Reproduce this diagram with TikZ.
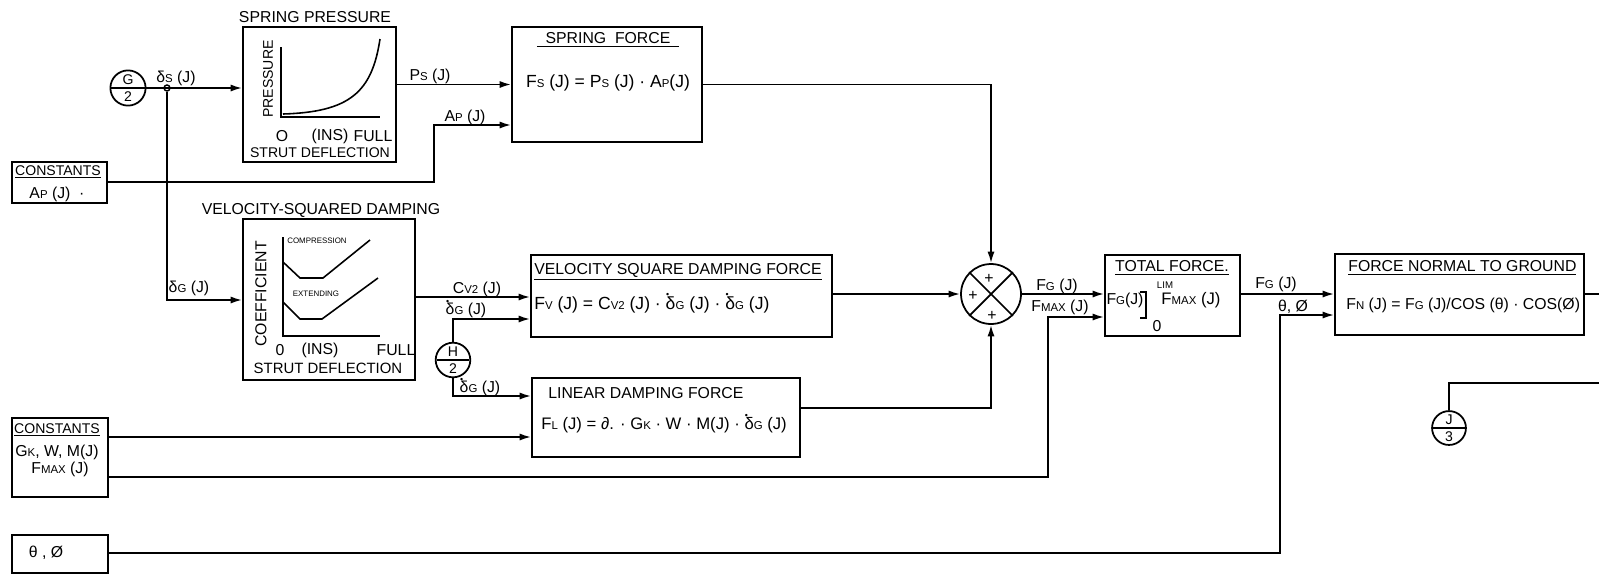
\documentclass[tikz,border=0pt]{standalone}
\usepackage{fontspec}
\setmainfont{Liberation Sans}
\usetikzlibrary{arrows.meta,fit,shapes.multipart}
\newcommand{\sm}[1]{{\fontsize{6.5}{6.5}\selectfont #1}}
\newcommand{\dl}[1]{δ\sm{#1}}
\newcommand{\dld}[1]{\rlap{\kern0.02em\raisebox{0.66em}{\fontsize{5}{5}\selectfont •}}δ\sm{#1}}
\begin{document}
\begin{tikzpicture}[x=0.02cm,y=-0.02cm,
    blk/.style={draw,line width=1pt,inner sep=0pt},
    ln/.style={line width=1pt},
    arr/.style={line width=1pt,-{Latex[length=6.5pt,width=4pt]}},
    crv/.style={line width=0.9pt},
    lbl/.style={inner sep=0pt,font=\fontsize{9}{10}\selectfont},
    fml/.style={inner sep=0pt,font=\fontsize{10}{11}\selectfont},
    tiny/.style={inner sep=0pt,font=\fontsize{4.5}{5}\selectfont},
    pg/.style={draw,circle split,line width=1pt,inner sep=1.4pt,font=\fontsize{8}{8}\selectfont}]
    \useasboundingbox (0,0) rectangle (1599,576);
    % Presion del resorte
    \node[blk,fit={(243,27)(396,162)}] (spp) {};
    \node[lbl] (spptit) at (315,17) {SPRING PRESSURE};
    \draw[crv] (281,47) -- (281,117) -- (380,117);
    \draw[crv] (283,114) .. controls (350,112) and (372,92) .. (380,39);
    \node[lbl,rotate=90,font=\fontsize{8}{8}\selectfont] (sppy) at (268,79) {PRESSURE};
    \node[lbl] (spp0) at (282,136) {O};
    \node[lbl] (sppi) at (330,136) {(INS)};
    \node[lbl] (sppf) at (373,136) {FULL};
    \node[lbl,font=\fontsize{8}{9}\selectfont] (sppx) at (320,153) {STRUT DEFLECTION};
    % Entrada G/2
    \node[pg] (cg) at (128,88) {G\nodepart{lower}2};
    \node[draw,circle,line width=0.8pt,inner sep=0pt,minimum size=0.12cm] (js) at (167,88) {};
    \node[lbl] (dsl) at (176,78) {\dl{S} (J)};
    \node[lbl] (dgl) at (189,288) {\dl{G} (J)};
    % Constantes
    \node[blk,fit={(12,162)(107,203)}] (c1) {};
    \node[lbl,font=\fontsize{8}{9}\selectfont] (c1t) at (58,172) {\underline{CONSTANTS}};
    \node[lbl] (c1v) at (57,194) {A\sm{P} (J) \ ·};
    \node[lbl] (apl) at (465,117) {A\sm{P} (J)};
    % Fuerza del resorte
    \node[blk,fit={(512,27)(702,142)}] (sf) {};
    \node[lbl] (sft) at (608,40) {\underline{\ \ SPRING\ \ FORCE\ \ }};
    \node[fml] (sff) at (608,83) {F\sm{S} (J) = P\sm{S} (J) · A\sm{P}(J)};
    \node[lbl] (psl) at (430,76) {P\sm{S} (J)};
    % Amortiguamiento cuadratico
    \node[blk,fit={(243,219)(415,380)}] (vsd) {};
    \node[lbl] (vsdtit) at (321,210) {VELOCITY-SQUARED DAMPING};
    \draw[crv] (283,237) -- (283,336) -- (380,336);
    \draw[crv] (283,262) -- (300,278) -- (323,278) -- (370,240);
    \draw[crv] (283,302) -- (300,319) -- (322,319) -- (378,278);
    \node[tiny] (vsdc) at (317,241) {COMPRESSION};
    \node[tiny] (vsde) at (316,294) {EXTENDING};
    \node[lbl,rotate=90] (vsdy) at (261,294) {COEFFICIENT};
    \node[lbl] (vsd0) at (280,350) {0};
    \node[lbl] (vsdi) at (320,350) {(INS)};
    \node[lbl] (vsdf0) at (396,350) {FULL};
    \node[lbl,font=\fontsize{8.5}{9}\selectfont] (vsdx) at (328,368) {STRUT DEFLECTION};
    % Fuerza de amortiguamiento cuadratico
    \node[blk,fit={(531,255)(832,337)}] (vsdf) {};
    \node[lbl,anchor=west] (vsdft) at (534,272) {\underline{VELOCITY SQUARE DAMPING FORCE}};
    \node[fml,anchor=west] (vsdff) at (534,303) {F\sm{V} (J) = C\sm{V2} (J) · \dld{G} (J) · \dld{G} (J)};
    \node[lbl] (cvl) at (477,289) {C\sm{V2} (J)};
    \node[pg] (ch) at (453,360) {H\nodepart{lower}2};
    \node[lbl] (dg2) at (466,309) {\dld{G} (J)};
    \node[lbl] (dg3) at (480,387) {\dld{G} (J)};
    % Amortiguamiento lineal
    \node[blk,fit={(532,378)(800,457)}] (ld) {};
    \node[lbl,anchor=west] (ldt) at (548,393) {LINEAR DAMPING FORCE};
    \node[fml,anchor=west,font=\fontsize{9.5}{11}\selectfont] (ldf) at (541,424) {F\sm{L} (J) = ∂. · G\sm{K} · W · M(J) · \dld{G} (J)};
    % Constantes 2
    \node[blk,fit={(12,418)(108,497)}] (c2) {};
    \node[lbl,font=\fontsize{8}{9}\selectfont] (c2t) at (57,430) {\underline{CONSTANTS}};
    \node[lbl] (c2v) at (57,452) {G\sm{K}, W, M(J)};
    \node[lbl] (c2m) at (60,469) {F\sm{MAX} (J)};
    % Sumador
    \node[draw,circle,line width=1pt,inner sep=0pt,minimum size=1.2cm] (sum) at (991,294) {};
    \draw[ln] (sum.north west) -- (sum.south east);
    \draw[ln] (sum.south west) -- (sum.north east);
    \node[lbl] (sp1) at (989,279) {+};
    \node[lbl] (sp2) at (973,296) {+};
    \node[lbl] (sp3) at (992,316) {+};
    \node[lbl] (fgl) at (1057,286) {F\sm{G} (J)};
    \node[lbl] (fml1) at (1060,307) {F\sm{MAX} (J)};
    % Fuerza total
    \node[blk,fit={(1105,255)(1240,336)}] (tf) {};
    \node[lbl] (tft) at (1172,268) {\underline{TOTAL FORCE.}};
    \node[fml,font=\fontsize{9}{10}\selectfont] (tfg) at (1125,300) {F\sm{G}(J)};
    \draw[ln] (1140,292) -- (1146,292) -- (1146,318) -- (1140,318);
    \node[tiny,font=\fontsize{5.5}{6}\selectfont] (tfl) at (1165,285) {LIM};
    \node[fml,font=\fontsize{9.5}{10}\selectfont] (tfm) at (1191,300) {F\sm{MAX} (J)};
    \node[lbl] (tf0) at (1157,326) {0};
    \node[lbl] (fg2) at (1276,284) {F\sm{G} (J)};
    % Fuerza normal
    \node[blk,fit={(1335,254)(1584,335)}] (fn) {};
    \node[lbl,anchor=west] (fnt) at (1348,268) {\underline{FORCE NORMAL TO GROUND}};
    \node[fml,anchor=west,font=\fontsize{9}{10}\selectfont] (fnf) at (1346,305) {F\sm{N} (J) = F\sm{G} (J)/COS (θ) · COS(Ø)};
    % Angulos
    \node[blk,fit={(12,535)(108,573)}] (tb) {};
    \node[lbl] (tbt) at (46,553) {θ , Ø};
    \node[lbl] (thl) at (1293,307) {θ, Ø};
    % Salida J/3
    \node[pg] (cj) at (1449,428) {J\nodepart{lower}3};
    % Conexiones
    \coordinate (k0) at (167,300);
    \coordinate (k1) at (434,182);
    \coordinate (k2) at (434,125);
    \coordinate (k3) at (415,297);
    \coordinate (k4) at (453,319);
    \coordinate (k5) at (453,396);
    \coordinate (k6) at (800,408);
    \coordinate (k7) at (108,437);
    \coordinate (k8) at (1048,477);
    \coordinate (k9) at (1048,317);
    \coordinate (k10) at (1599,294);
    \coordinate (k11) at (1280,553);
    \coordinate (k12) at (1280,315);
    \coordinate (k13) at (1449,383);
    \coordinate (k14) at (1599,383);
    \draw[arr] (cg) -- (spp.west |- cg);
    \draw[arr] (js) -- (k0) -- (vsd.west |- k0);
    \draw[arr] (c1.east |- k1) -- (k1) -- (k2) -- (sf.west |- k2);
    \draw[arr] (spp.east |- sf.west) -- (sf.west);
    \draw[arr] (sf.east) -- (sf.east -| sum) -- (sum);
    \draw[arr] (k3) -- (vsdf.west |- k3);
    \draw[arr] (ch) -- (k4) -- (vsdf.west |- k4);
    \draw[arr] (ch) -- (k5) -- (ld.west |- k5);
    \draw[arr] (vsdf.east |- sum) -- (sum);
    \draw[arr] (k6) -- (k6 -| sum) -- (sum);
    \draw[arr] (k7) -- (ld.west |- k7);
    \draw[arr] (sum) -- (tf.west |- sum);
    \draw[arr] (c2.east |- k8) -- (k8) -- (k9) -- (tf.west |- k9);
    \draw[arr] (tf.east |- sum) -- (fn.west |- sum);
    \draw[ln] (fn.east |- sum) -- (k10);
    \draw[arr] (tb.east |- k11) -- (k11) -- (k12) -- (fn.west |- k12);
    \draw[ln] (cj) -- (k13) -- (k14);
\end{tikzpicture}
\end{document}
